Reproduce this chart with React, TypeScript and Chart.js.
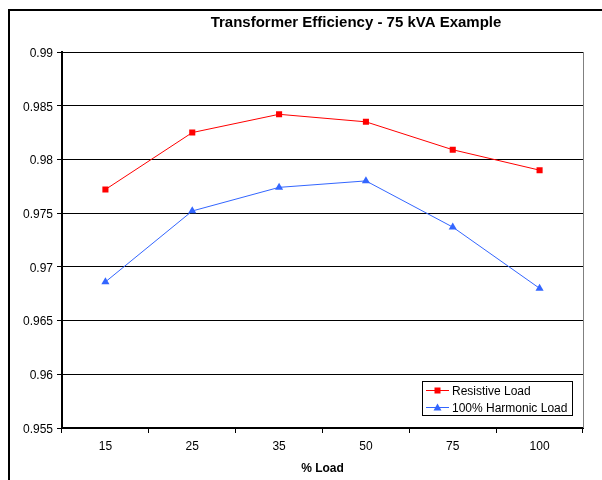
import React, { useEffect, useRef } from "react";
import { Chart, registerables } from "chart.js";

Chart.register(...registerables);

const loadLabels = ["15", "25", "35", "50", "75", "100"];
const resistiveLoad = [0.9772, 0.9825, 0.9842, 0.9835, 0.9809, 0.979];
const harmonicLoad = [0.9686, 0.9752, 0.9774, 0.978, 0.9737, 0.968];
const seriesNames = ["Resistive Load", "100% Harmonic Load"];
const seriesColors = ["#FF0000", "#3366FF"];
const seriesMarkers = ["rect", "triangle"];
const chartTitle = "Transformer Efficiency - 75 kVA Example";
const xAxisTitle = "% Load";
const yMin = 0.955;
const yMax = 0.99;
const yStep = 0.005;

const FONT = "'Liberation Sans', Arial, Helvetica, sans-serif";

const decorPlugin = {
  id: "decor",
  beforeDraw(chart: any) {
    const ctx = chart.ctx;
    ctx.save();
    ctx.fillStyle = "#ffffff";
    ctx.fillRect(0, 0, chart.width, chart.height);
    // outer frame
    ctx.strokeStyle = "#000000";
    ctx.lineWidth = 2;
    ctx.strokeRect(9, 10, 700, 700);
    ctx.restore();
  },
  afterDatasetsDraw(chart: any) {
    const ctx = chart.ctx;
    const a = chart.chartArea;
    ctx.save();
    // right plot border (gray)
    ctx.strokeStyle = "#808080";
    ctx.lineWidth = 1;
    ctx.beginPath();
    ctx.moveTo(a.right + 0.5, a.top);
    ctx.lineTo(a.right + 0.5, a.bottom);
    ctx.stroke();

    // title
    ctx.fillStyle = "#000";
    ctx.font = `bold 15px ${FONT}`;
    ctx.textAlign = "center";
    ctx.textBaseline = "middle";
    ctx.fillText(chartTitle, a.left + 294, 23);

    // legend box inside plot
    const bx = a.right - 161;
    const by = a.bottom - 47;
    const bw = 150;
    const bh = 34;
    ctx.fillStyle = "#fff";
    ctx.fillRect(bx, by, bw, bh);
    ctx.strokeStyle = "#000";
    ctx.lineWidth = 1;
    ctx.strokeRect(bx + 0.5, by + 0.5, bw, bh);
    ctx.font = `12px ${FONT}`;
    ctx.textAlign = "left";
    ctx.textBaseline = "middle";
    chart.data.datasets.forEach((ds: any, i: number) => {
      const y = by + 9.5 + i * 17;
      const x0 = bx + 4;
      const x1 = bx + 27;
      ctx.strokeStyle = ds.borderColor;
      ctx.lineWidth = 1;
      ctx.beginPath();
      ctx.moveTo(x0, y);
      ctx.lineTo(x1, y);
      ctx.stroke();
      const cx = (x0 + x1) / 2;
      ctx.fillStyle = ds.pointBackgroundColor;
      if (ds.pointStyle === "rect") {
        ctx.fillRect(cx - 3, y - 3, 6, 6);
      } else {
        ctx.beginPath();
        ctx.moveTo(cx, y - 4);
        ctx.lineTo(cx + 4, y + 3);
        ctx.lineTo(cx - 4, y + 3);
        ctx.closePath();
        ctx.fill();
      }
      ctx.fillStyle = "#000";
      ctx.fillText(ds.label, x1 + 3, y + 1);
    });
    ctx.restore();
  },
};

export default function App() {
  const ref = useRef<HTMLCanvasElement | null>(null);

  useEffect(() => {
    if (!ref.current) return;
    Chart.defaults.font.family = FONT;
    Chart.defaults.color = "#000";
    const chart = new Chart(ref.current, {
      type: "line",
      data: {
        labels: loadLabels,
        datasets: [
          {
            label: seriesNames[0],
            data: resistiveLoad,
            borderColor: seriesColors[0],
            backgroundColor: seriesColors[0],
            pointBackgroundColor: seriesColors[0],
            pointBorderColor: seriesColors[0],
            pointStyle: seriesMarkers[0] as any,
            pointRadius: 4.3,
            pointBorderWidth: 0,
            borderWidth: 1,
            tension: 0,
          },
          {
            label: seriesNames[1],
            data: harmonicLoad,
            borderColor: seriesColors[1],
            backgroundColor: seriesColors[1],
            pointBackgroundColor: seriesColors[1],
            pointBorderColor: seriesColors[1],
            pointStyle: seriesMarkers[1] as any,
            pointRadius: 4.7,
            pointBorderWidth: 0,
            borderWidth: 1,
            tension: 0,
          },
        ],
      },
      plugins: [decorPlugin],
      options: {
        responsive: false,
        animation: false,
        layout: { padding: { top: 52, right: 19, left: 0, bottom: 0 } },
        plugins: {
          legend: { display: false },
          title: { display: false },
          tooltip: { enabled: false },
        },
        scales: {
          x: {
            type: "category",
            offset: true,
            grid: {
              display: true,
              drawOnChartArea: false,
              offset: true,
              tickLength: 5,
              color: "#000",
            },
            border: { color: "#000", width: 2 },
            ticks: {
              font: { size: 12, family: FONT },
              color: "#000",
              padding: 6,
              maxRotation: 0,
            },
            title: {
              display: true,
              text: xAxisTitle,
              font: { size: 12, weight: "bold", family: FONT },
              color: "#000",
              padding: { top: 4, bottom: 4 },
            },
            afterFit: (s: any) => {
              s.height = 52;
            },
          },
          y: {
            min: yMin,
            max: yMax,
            ticks: {
              stepSize: yStep,
              font: { size: 12, family: FONT },
              color: "#000",
              padding: 4,
              labelOffset: 1.5,
              callback: (v: any) => String(Number(Number(v).toFixed(3))),
            },
            grid: { color: "#000", tickLength: 5, lineWidth: 1 },
            border: { color: "#000", width: 2 },
            afterFit: (s: any) => {
              s.width = 62;
            },
          },
        },
      },
    } as any);
    return () => chart.destroy();
  }, []);

  return (
    <div style={{ position: "fixed", left: 0, top: 0, width: 602, height: 480 }}>
      <canvas ref={ref} width={602} height={480} style={{ width: 602, height: 480 }} />
    </div>
  );
}
